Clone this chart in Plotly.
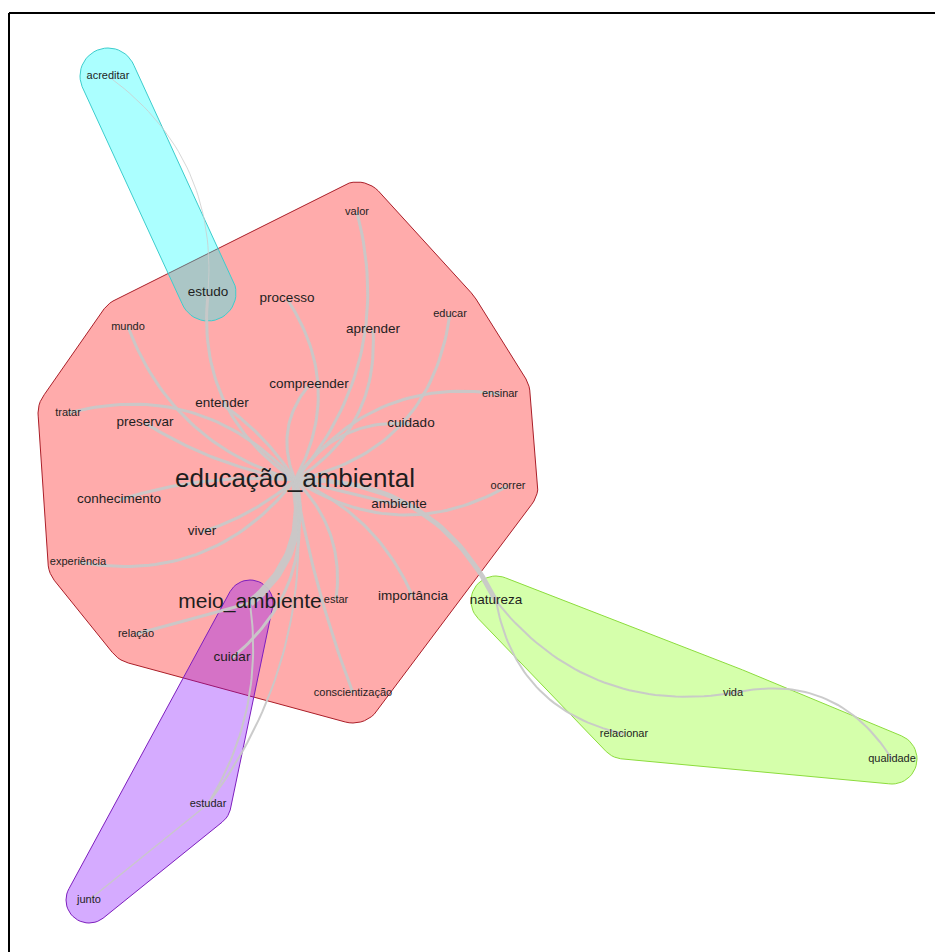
import numpy as np
import plotly.graph_objects as go

# words of the similarity graph, layout position (px) and community
words = ["educação_ambiental", "meio_ambiente", "valor", "processo", "aprender",
         "educar", "mundo", "compreender", "entender", "tratar", "preservar",
         "ensinar", "cuidado", "conhecimento", "ambiente", "ocorrer", "viver",
         "experiência", "estar", "importância", "relação", "conscientização",
         "acreditar", "estudo", "cuidar", "estudar", "junto", "natureza",
         "vida", "relacionar", "qualidade"]
word_x = [295, 250, 357, 287, 373, 450, 128, 309, 222, 68, 145, 500, 411, 119,
          399, 508, 202, 78, 336, 413, 136, 353, 108, 208, 232, 208, 89, 496,
          733, 624, 892]
word_y = [480, 603, 212, 299, 330, 314, 327, 385, 404, 413, 423, 394, 424, 500,
          505, 486, 532, 562, 600, 597, 634, 693, 76, 293, 658, 804, 900, 601,
          693, 734, 759]
word_freq = [5, 4, 1, 2, 2, 1, 1, 2, 2, 1, 2, 1, 2, 2, 2, 1, 2, 1, 1, 2, 1, 1,
             1, 2, 2, 1, 1, 2, 1, 1, 1]
word_group = [0, 2, 0, 0, 0, 0, 0, 0, 0, 0, 0, 0, 0, 0, 0, 0, 0, 0, 0, 0, 0, 0,
              1, 1, 2, 2, 2, 3, 3, 3, 3]

# edges: source, target, weight, curvature
edge_from = ["educação_ambiental"] * 24 + ["meio_ambiente", "meio_ambiente",
             "estudar", "acreditar", "natureza", "vida", "natureza"]
edge_to = ["valor", "processo", "aprender", "educar", "ensinar", "cuidado",
           "compreender", "entender", "estudo", "mundo", "tratar", "preservar",
           "conhecimento", "viver", "experiência", "meio_ambiente", "estar",
           "importância", "ambiente", "ocorrer", "natureza", "conscientização",
           "cuidar", "estudar",
           "relação", "estudar", "junto", "estudo", "vida", "qualidade",
           "relacionar"]
edge_weight = [3, 3, 3, 3, 3, 3, 3, 3, 3, 3, 3, 3, 3, 3, 3, 8, 3, 3, 3, 3, 5, 3,
               3, 2,
               3, 2, 1.5, 1, 2, 2, 2]
edge_bend = [0.26, 0.3, 0.3, 0.35, -0.3, -0.3, -0.3, 0.1, -0.3, -0.25, 0.3,
             -0.1, 0.1, -0.1, -0.3, -0.3, -0.25, -0.2, 0.0, 0.3, -0.32, 0.05,
             -0.3, -0.2,
             0.0, -0.18, 0.0, -0.28, 0.29, -0.35, 0.33]

group_fill = ["rgba(255,0,0,0.33)", "rgba(0,255,255,0.33)",
              "rgba(128,0,255,0.33)", "rgba(128,255,0,0.33)"]
group_line = ["rgb(170,30,40)", "rgb(60,205,205)", "rgb(125,30,190)",
              "rgb(140,220,60)"]
group_pad = [30, 28, 23, 25]
font_px = {1: 11, 2: 13.5, 4: 21, 5: 26}

W, H = 943, 952
OFF = 8  # page body margin of the html file
pos = {w: (x, y) for w, x, y in zip(words, word_x, word_y)}


def convex_hull(pts):
    pts = sorted(set(pts))
    def cross(o, a, b):
        return (a[0] - o[0]) * (b[1] - o[1]) - (a[1] - o[1]) * (b[0] - o[0])
    lower, upper = [], []
    for p in pts:
        while len(lower) >= 2 and cross(lower[-2], lower[-1], p) <= 0:
            lower.pop()
        lower.append(p)
    for p in reversed(pts):
        while len(upper) >= 2 and cross(upper[-2], upper[-1], p) <= 0:
            upper.pop()
        upper.append(p)
    return lower[:-1] + upper[:-1]


fig = go.Figure()

# community hulls
ang = np.linspace(0, 2 * np.pi, 48, endpoint=False)
for g in range(4):
    pts = []
    for w, x, y, gg in zip(words, word_x, word_y, word_group):
        if gg == g:
            r = group_pad[g]
            pts += [(round(x + r * np.cos(a), 2), round(y + r * np.sin(a), 2)) for a in ang]
    hull = convex_hull(pts)
    hx = [p[0] for p in hull] + [hull[0][0]]
    hy = [p[1] for p in hull] + [hull[0][1]]
    fig.add_trace(go.Scatter(x=hx, y=hy, mode="lines", fill="toself",
                             fillcolor=group_fill[g],
                             line=dict(color=group_line[g], width=1),
                             hoverinfo="skip"))

# edges as quadratic curves
t = np.linspace(0, 1, 40)
for s, e, wgt, b in zip(edge_from, edge_to, edge_weight, edge_bend):
    x0, y0 = pos[s]
    x1, y1 = pos[e]
    dx, dy = x1 - x0, y1 - y0
    cx = (x0 + x1) / 2 - dy * b
    cy = (y0 + y1) / 2 + dx * b
    bx = (1 - t) ** 2 * x0 + 2 * (1 - t) * t * cx + t ** 2 * x1
    by = (1 - t) ** 2 * y0 + 2 * (1 - t) * t * cy + t ** 2 * y1
    col = "rgba(200,200,200,0.95)" if wgt >= 1.5 else "rgba(205,205,205,0.8)"
    fig.add_trace(go.Scatter(x=bx, y=by, mode="lines",
                             line=dict(color=col, width=wgt),
                             hoverinfo="skip"))

# labels
fig.add_trace(go.Scatter(x=word_x, y=word_y, mode="text", text=words,
                         textposition="middle center",
                         textfont=dict(family="Liberation Sans, Arial, sans-serif",
                                       size=[font_px[f] for f in word_freq],
                                       color="#1e1e1e"),
                         hoverinfo="text"))

# frame of the figure
fig.add_shape(type="line", x0=9, x1=W, y0=13, y1=13, xref="x", yref="y",
              line=dict(color="black", width=2))
fig.add_shape(type="line", x0=9, x1=9, y0=13, y1=H, xref="x", yref="y",
              line=dict(color="black", width=2))

fig.update_layout(width=W - OFF, height=H - OFF, margin=dict(l=0, r=0, t=0, b=0),
                  paper_bgcolor="white", plot_bgcolor="white",
                  showlegend=False,
                  xaxis=dict(range=[OFF, W], visible=False, fixedrange=True),
                  yaxis=dict(range=[H, OFF], visible=False, fixedrange=True))

fig.write_html("out.html")
